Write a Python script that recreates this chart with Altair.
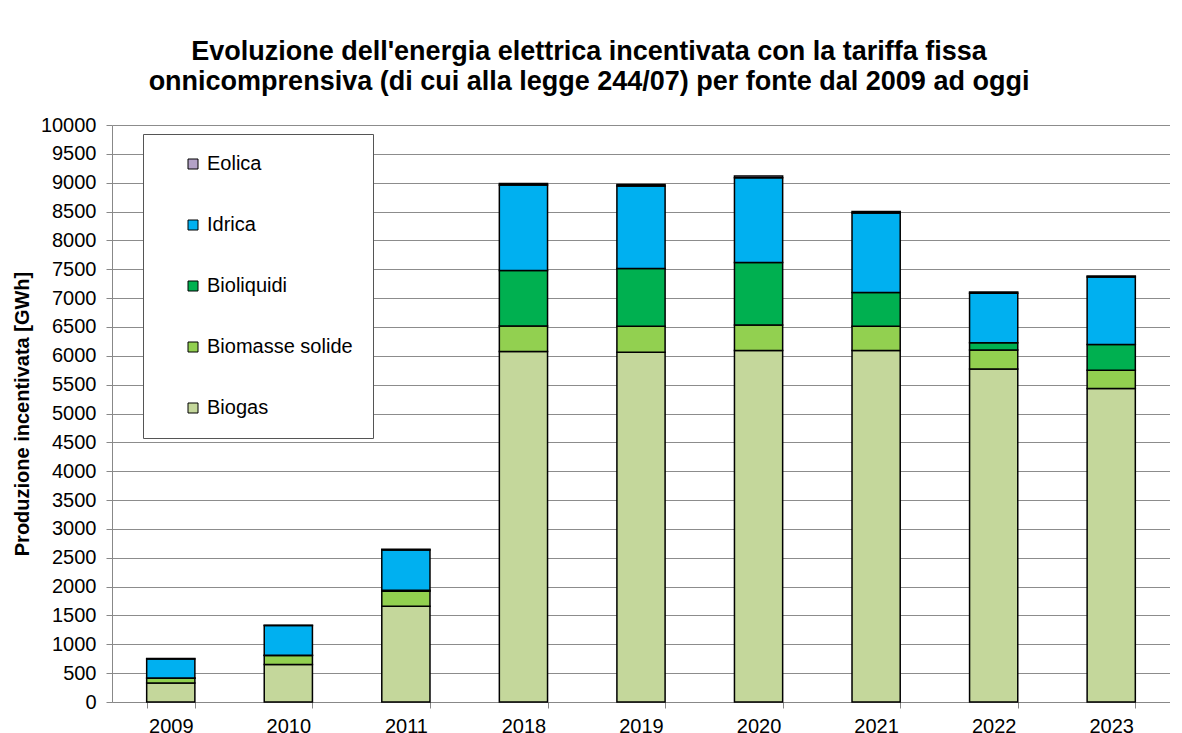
import altair as alt
import pandas as pd

years = ["2009", "2010", "2011", "2018", "2019", "2020", "2021", "2022", "2023"]
biogas = [330, 648, 1660, 6075, 6062, 6090, 6090, 5770, 5435]
biomasse_solide = [80, 156, 260, 440, 450, 445, 420, 330, 315]
bioliquidi = [5, 5, 15, 965, 1000, 1080, 585, 125, 445]
idrica = [330, 515, 700, 1480, 1430, 1470, 1380, 860, 1170]
eolica = [8, 8, 12, 25, 25, 30, 25, 20, 20]

sources = ["Biogas", "Biomasse solide", "Bioliquidi", "Idrica", "Eolica"]
colors = ["#c4d79b", "#92d050", "#00b050", "#00b0f0", "#b3a2c7"]
series = [biogas, biomasse_solide, bioliquidi, idrica, eolica]

rows = []
for si, (name, vals) in enumerate(zip(sources, series)):
    for y, v in zip(years, vals):
        rows.append({"Anno": y, "Fonte": name, "Valore": v, "ordine": si})
df = pd.DataFrame(rows)

legend_order = list(reversed(sources))
color_range = [colors[sources.index(s)] for s in legend_order]

FONT = "Liberation Sans"

chart = alt.Chart(df).mark_bar(stroke="black", strokeWidth=1.5).encode(
    x=alt.X("Anno:N", sort=years,
            scale=alt.Scale(paddingInner=0.59, paddingOuter=0.295),
            axis=alt.Axis(title=None, labelAngle=0, tickBand="extent", tickSize=6,
                          labelFontSize=20, labelColor="black", labelPadding=8,
                          domainColor="#888888", tickColor="#888888", grid=False)),
    y=alt.Y("Valore:Q", stack="zero",
            scale=alt.Scale(domain=[0, 10000], nice=False),
            axis=alt.Axis(title="Produzione incentivata [GWh]", values=list(range(0, 10001, 500)),
                          format="d",
                          titleFontSize=20, titleFontWeight="bold", titleColor="black",
                          titlePadding=8,
                          labelFontSize=20, labelColor="black", labelPadding=10, tickSize=6,
                          gridColor="#8c8c8c", domainColor="#888888", tickColor="#888888")),
    color=alt.Color("Fonte:N", scale=alt.Scale(domain=legend_order, range=color_range),
                    legend=alt.Legend(title=None, orient="none", legendX=31, legendY=9,
                                      strokeColor="#555555", fillColor="white",
                                      padding=20, symbolOffset=20, rowPadding=41,
                                      labelFontSize=20, labelColor="black", labelOffset=4,
                                      labelExpr="datum.label + '      '",
                                      symbolType="square", symbolSize=100,
                                      symbolStrokeColor="black", symbolStrokeWidth=1)),
    order=alt.Order("ordine:Q", sort="ascending"),
).properties(
    width=1058,
    height=577,
    padding={"left": 4, "top": 30, "right": 0, "bottom": 0},
    title=alt.TitleParams(
        text=["Evoluzione dell'energia elettrica incentivata con la tariffa fissa",
              "onnicomprensiva (di cui alla legge 244/07) per fonte dal 2009 ad oggi"],
        fontSize=27, fontWeight="bold", color="black", font=FONT,
        anchor="middle", lineHeight=30, offset=19, dx=-52,
    ),
).configure(font=FONT).configure_view(stroke="transparent")

chart.save("out.html", embed_options={"renderer": "svg", "actions": False})
